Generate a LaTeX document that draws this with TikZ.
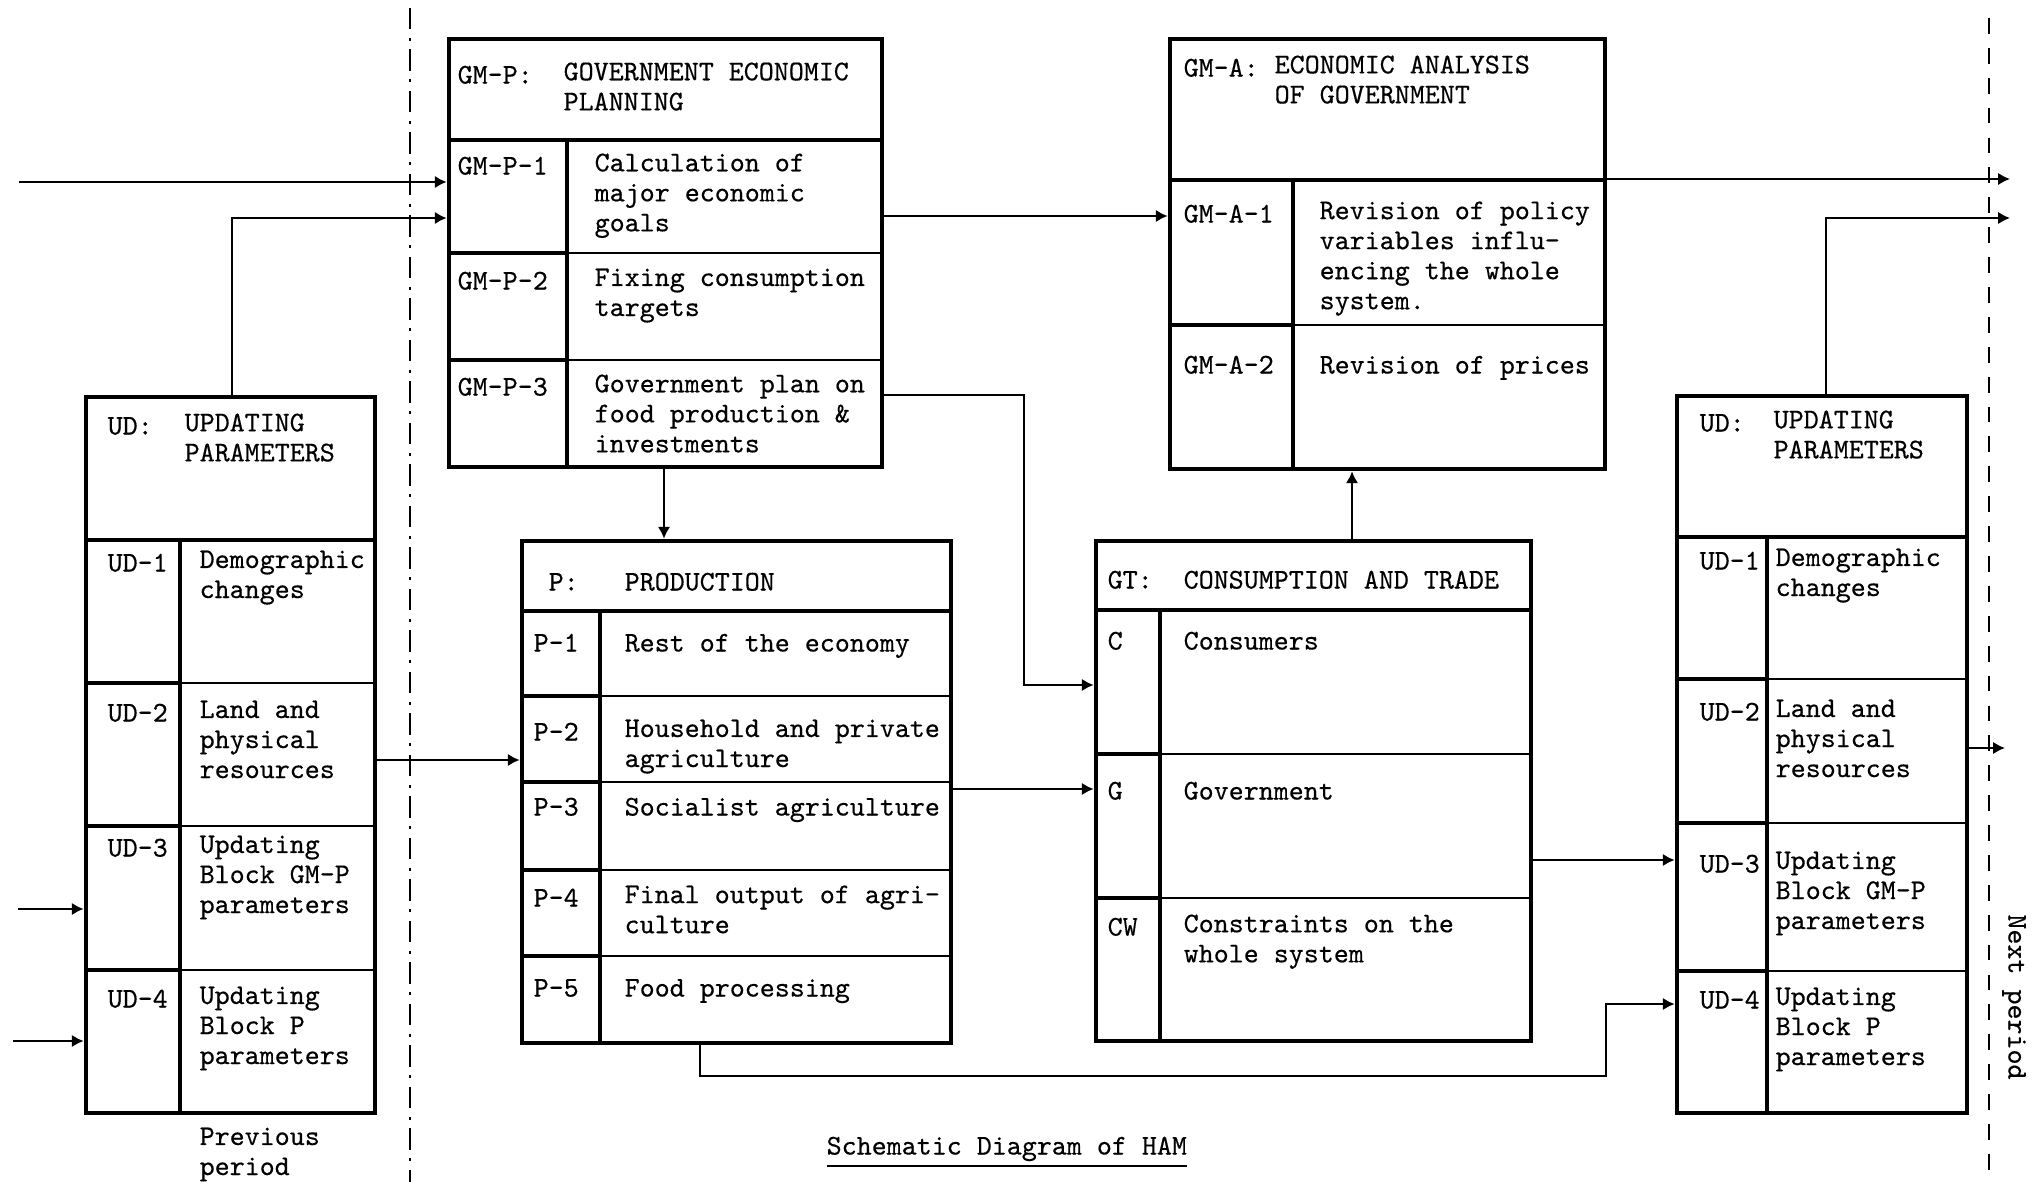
\documentclass[tikz,border=0pt]{standalone}
\usepackage{fontspec}
\usetikzlibrary{arrows.meta, fit, positioning}
\newfontfamily\hamfont[FakeBold=0.4]{lmmono10-regular.otf}
\newcommand{\hamtext}{\hamfont\fontsize{8.13pt}{8.54pt}\selectfont}

\tikzset{
    frame/.style={draw, line width=1.3pt, inner sep=0pt},
    heavy/.style={line width=1.3pt},
    light/.style={line width=0.55pt},
    link/.style={line width=0.75pt, -{Latex[length=3.4pt,width=3.6pt]}},
    txt/.style={font=\hamtext, anchor=north west, inner sep=0pt, align=left, yshift=-0.8pt, execute at begin node=\strut},
}

\begin{document}
\begin{tikzpicture}[x=0.01cm, y=-0.01cm]
    \fill[white] (0,0) rectangle (2036,1182);
    \useasboundingbox (0,0) rectangle (2036,1182);

    % Period borders
    \draw[line width=0.6pt, dash pattern=on 6pt off 2.5pt on 0.8pt off 2.5pt] (410,8) -- (410,1182);
    \draw[line width=0.5pt, dash pattern=on 4.5pt off 4pt] (1989,18) -- (1989,1182);

    % GM-P block
    \node[frame, fit={(449,39) (882,467)}] (gmp) {};
    \draw[heavy] (449,140) -- (882,140);
    \draw[heavy] (567,140) -- (567,467);
    \foreach \y in {253,360} {
        \draw[heavy] (449,\y) -- (567,\y);
        \draw[light] (567,\y) -- (882,\y);
    }
    \node[txt] (gmp-id) at (457,59) {GM-P:};
    \node[txt] (gmp-head) at (563,59) {GOVERNMENT ECONOMIC\\PLANNING};
    \node[txt] (gmp1-id) at (457,150) {GM-P-1};
    \node[txt] (gmp1-txt) at (594,150) {Calculation of\\major economic\\goals};
    \node[txt] (gmp2-id) at (457,265) {GM-P-2};
    \node[txt] (gmp2-txt) at (594,265) {Fixing consumption\\targets};
    \node[txt] (gmp3-id) at (457,371) {GM-P-3};
    \node[txt] (gmp3-txt) at (594,371) {Government plan on\\food production \&\\investments};

    % GM-A block
    \node[frame, fit={(1170,39) (1605,469)}] (gma) {};
    \draw[heavy] (1170,180) -- (1605,180);
    \draw[heavy] (1293,180) -- (1293,469);
    \draw[heavy] (1170,325) -- (1293,325);
    \draw[light] (1293,325) -- (1605,325);
    \node[txt] (gma-id) at (1183,52) {GM-A:};
    \node[txt] (gma-head) at (1274,52) {ECONOMIC ANALYSIS\\OF GOVERNMENT};
    \node[txt] (gma1-id) at (1183,198) {GM-A-1};
    \node[txt] (gma1-txt) at (1319,198) {Revision of policy\\variables influ-\\encing the whole\\system.};
    \node[txt] (gma2-id) at (1183,349) {GM-A-2};
    \node[txt] (gma2-txt) at (1319,349) {Revision of prices};

    % UD block, previous period
    \node[frame, fit={(86,397) (375,1113)}] (udl) {};
    \draw[heavy] (86,540) -- (375,540);
    \draw[heavy] (180,540) -- (180,1113);
    \foreach \y in {683,826,970} {
        \draw[heavy] (86,\y) -- (180,\y);
        \draw[light] (180,\y) -- (375,\y);
    }
    \node[txt] (udl-id) at (107,410) {UD:};
    \node[txt] (udl-head) at (184,410) {UPDATING\\PARAMETERS};
    \node[txt] (udl1-id) at (107,547) {UD-1};
    \node[txt] (udl1-txt) at (199,547) {Demographic\\changes};
    \node[txt] (udl2-id) at (107,697) {UD-2};
    \node[txt] (udl2-txt) at (199,697) {Land and\\physical\\resources};
    \node[txt] (udl3-id) at (107,832) {UD-3};
    \node[txt] (udl3-txt) at (199,832) {Updating\\Block GM-P\\parameters};
    \node[txt] (udl4-id) at (107,983) {UD-4};
    \node[txt] (udl4-txt) at (199,983) {Updating\\Block P\\parameters};
    \node[txt] (prev) at (199,1124) {Previous\\period};

    % P block
    \node[frame, fit={(522,541) (951,1043)}] (prod) {};
    \draw[heavy] (522,611) -- (951,611);
    \draw[heavy] (600,611) -- (600,1043);
    \foreach \y in {696,782,870,956} {
        \draw[heavy] (522,\y) -- (600,\y);
        \draw[light] (600,\y) -- (951,\y);
    }
    \node[txt] (prod-id) at (548,566) {P:};
    \node[txt] (prod-head) at (624,566) {PRODUCTION};
    \node[txt] (p1-id) at (533,627) {P-1};
    \node[txt] (p1-txt) at (624,627) {Rest of the economy};
    \node[txt] (p2-id) at (533,716) {P-2};
    \node[txt] (p2-txt) at (624,716) {Household and private\\agriculture};
    \node[txt] (p3-id) at (533,791) {P-3};
    \node[txt] (p3-txt) at (624,791) {Socialist agriculture};
    \node[txt] (p4-id) at (533,882) {P-4};
    \node[txt] (p4-txt) at (624,882) {Final output of agri-\\culture};
    \node[txt] (p5-id) at (533,972) {P-5};
    \node[txt] (p5-txt) at (624,972) {Food processing};

    % GT block
    \node[frame, fit={(1096,541) (1531,1041)}] (gt) {};
    \draw[heavy] (1096,610) -- (1531,610);
    \draw[heavy] (1160,610) -- (1160,1041);
    \foreach \y in {754,898} {
        \draw[heavy] (1096,\y) -- (1160,\y);
        \draw[light] (1160,\y) -- (1531,\y);
    }
    \node[txt] (gt-id) at (1107,564) {GT:};
    \node[txt] (gt-head) at (1183,564) {CONSUMPTION AND TRADE};
    \node[txt] (gtc-id) at (1107,625) {C};
    \node[txt] (gtc-txt) at (1183,625) {Consumers};
    \node[txt] (gtg-id) at (1107,775) {G};
    \node[txt] (gtg-txt) at (1183,775) {Government};
    \node[txt] (gtw-id) at (1107,911) {CW};
    \node[txt] (gtw-txt) at (1183,911) {Constraints on the\\whole system};

    % UD block, next period
    \node[frame, fit={(1677,396) (1967,1113)}] (udr) {};
    \draw[heavy] (1677,537) -- (1967,537);
    \draw[heavy] (1767,537) -- (1767,1113);
    \foreach \y in {679,823,971} {
        \draw[heavy] (1677,\y) -- (1767,\y);
        \draw[light] (1767,\y) -- (1967,\y);
    }
    \node[txt] (udr-id) at (1699,407) {UD:};
    \node[txt] (udr-head) at (1773,407) {UPDATING\\PARAMETERS};
    \node[txt] (udr1-id) at (1699,545) {UD-1};
    \node[txt] (udr1-txt) at (1775,545) {Demographic\\changes};
    \node[txt] (udr2-id) at (1699,696) {UD-2};
    \node[txt] (udr2-txt) at (1775,696) {Land and\\physical\\resources};
    \node[txt] (udr3-id) at (1699,848) {UD-3};
    \node[txt] (udr3-txt) at (1775,848) {Updating\\Block GM-P\\parameters};
    \node[txt] (udr4-id) at (1699,984) {UD-4};
    \node[txt] (udr4-txt) at (1775,984) {Updating\\Block P\\parameters};

    % Captions
    \node[txt] (title) at (826,1130) {\underline{Schematic Diagram of HAM}};
    \node[font=\hamtext, inner sep=0pt, rotate=-90] (next) at (2014,997) {Next period};

    % Connectors
    \coordinate (in-goal) at (19,182);
    \coordinate (in-ud3) at (18,909);
    \coordinate (in-ud4) at (13,1041);
    \coordinate (udl-up) at (232,218);
    \coordinate (gmp-c) at (1024,395);
    \coordinate (gmp-gt) at (1024,685);
    \coordinate (gmp-a) at (882,216);
    \coordinate (ud-p) at (375,760);
    \coordinate (p-gt) at (951,789);
    \coordinate (gt-ud) at (1531,860);
    \coordinate (p-low) at (700,1076);
    \coordinate (p-turn) at (1606,1076);
    \coordinate (p-ud) at (1606,1004);
    \coordinate (out-a) at (2010,179);
    \coordinate (out-ud) at (2010,218);
    \coordinate (udr-up) at (1826,218);
    \coordinate (out-next) at (2005,748);

    \draw[link] (in-goal) -- (in-goal -| gmp.west);
    \draw[link] (udl.north -| udl-up) -- (udl-up) -- (udl-up -| gmp.west);
    \draw[link] (gmp-a) -- (gmp-a -| gma.west);
    \draw[link] (gmp.east |- gmp-c) -- (gmp-c) -- (gmp-gt) -- (gmp-gt -| gt.west);
    \draw[link] (gmp.south -| 664,0) -- (prod.north -| 664,0);
    \draw[link] (ud-p) -- (ud-p -| prod.west);
    \draw[link] (p-gt) -- (p-gt -| gt.west);
    \draw[link] (gt.north -| 1352,0) -- (gma.south -| 1352,0);
    \draw[link] (gma.east |- out-a) -- (out-a);
    \draw[link] (udr.north -| udr-up) -- (udr-up) -- (out-ud);
    \draw[link] (gt-ud) -- (gt-ud -| udr.west);
    \draw[link] (prod.south -| p-low) -- (p-low) -- (p-turn) -- (p-ud) -- (p-ud -| udr.west);
    \draw[link] (in-ud3) -- (in-ud3 -| udl.west);
    \draw[link] (in-ud4) -- (in-ud4 -| udl.west);
    \draw[link] (udr.east |- out-next) -- (out-next);
\end{tikzpicture}
\end{document}
